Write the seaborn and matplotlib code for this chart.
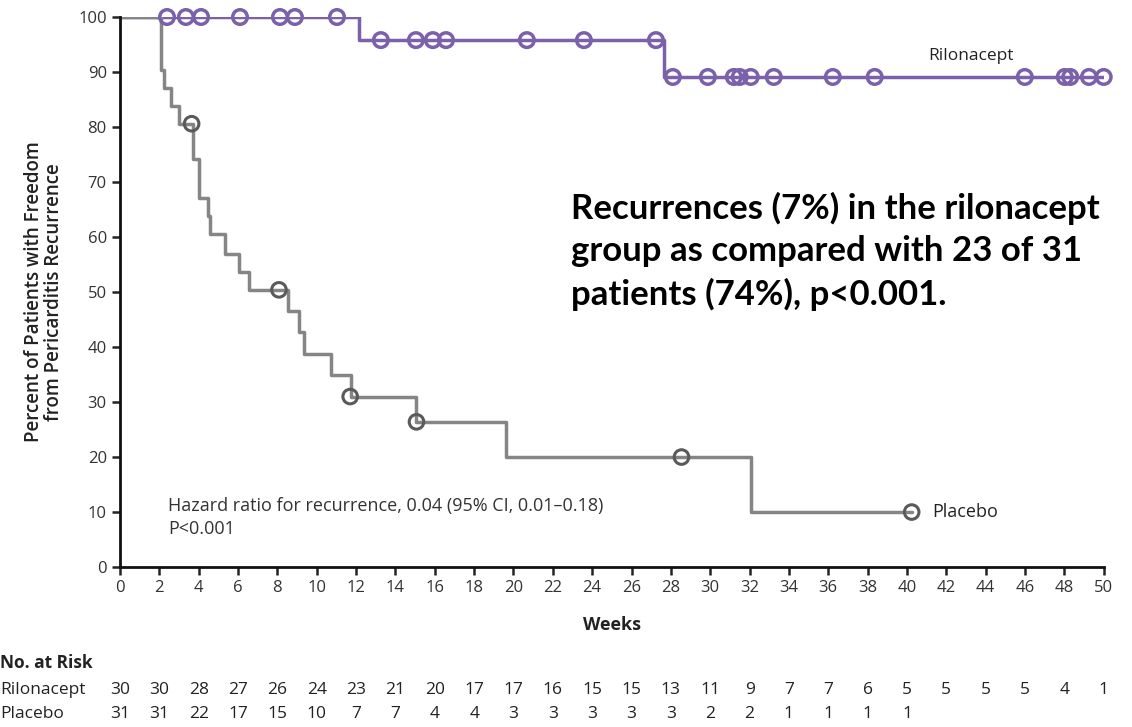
import numpy as np
import seaborn as sns
import matplotlib
matplotlib.use('Agg')
import matplotlib.pyplot as plt

# Kaplan-Meier step data (weeks, percent free of recurrence)
rilo_times = [0, 12.14, 27.64, 50]
rilo_surv = [100, 95.8, 89.1, 89.1]
rilo_cens_t = [2.39, 3.35, 4.12, 6.1, 8.13, 8.89, 11.03,
               13.26, 15.04, 15.9, 16.57, 20.68, 23.58, 27.24,
               28.1, 29.88, 31.2, 31.5, 32.06, 33.23, 36.23, 38.36,
               45.99, 48.02, 48.3, 49.25, 50.0]
rilo_cens_s = [100] * 7 + [95.8] * 7 + [89.1] * 13

plac_times = [0, 2.1, 2.25, 2.6, 3.0, 3.7, 4.0, 4.45, 4.57, 5.35, 6.05, 6.57,
              8.55, 9.1, 9.37, 10.7, 11.74, 15.03, 19.6, 32.06, 40.24]
plac_surv = [100, 90.3, 87.1, 83.9, 80.6, 74.2, 67.1, 63.9, 60.6, 57.0, 53.7, 50.4,
             46.6, 42.7, 38.8, 34.9, 31.0, 26.4, 20.0, 10.0, 10.0]
plac_cens_t = [3.64, 8.08, 11.7, 15.07, 28.54, 40.24]
plac_cens_s = [80.6, 50.4, 31.0, 26.4, 20.0, 10.0]

risk_weeks = list(range(0, 52, 2))
risk_rilo = [30, 30, 28, 27, 26, 24, 23, 21, 20, 17, 17, 16, 15, 15, 13, 11, 9, 7, 7, 6, 5, 5, 5, 5, 4, 1]
risk_plac = [31, 31, 22, 17, 15, 10, 7, 7, 4, 4, 3, 3, 3, 3, 3, 2, 2, 1, 1, 1, 1]

purple = '#7b60aa'
grey = '#858585'
dark_grey = '#5a5a5a'

sns.set_theme(style='ticks')
plt.rcParams['font.family'] = ['Open Sans', 'DejaVu Sans']

fig = plt.figure(figsize=(11.32, 7.27), dpi=100)
ax = fig.add_axes([0.106, 0.22, 0.869, 0.7566])

sns.lineplot(x=rilo_times, y=rilo_surv, drawstyle='steps-post', estimator=None,
             color=purple, linewidth=2.5, ax=ax)
sns.lineplot(x=plac_times, y=plac_surv, drawstyle='steps-post', estimator=None,
             color=grey, linewidth=2.5, ax=ax)
sns.scatterplot(x=rilo_cens_t, y=rilo_cens_s, marker='o', s=110, fc='none',
                ec=purple, linewidth=2.5, clip_on=False, zorder=5, ax=ax)
sns.scatterplot(x=plac_cens_t, y=plac_cens_s, marker='o', s=110, fc='none',
                ec=dark_grey, linewidth=2.2, clip_on=False, zorder=5, ax=ax)

ax.set_xlim(0, 50)
ax.set_ylim(0, 100)
ax.set_xticks(risk_weeks)
ax.set_yticks(range(0, 101, 10))
ax.tick_params(axis='both', direction='out', length=6, width=1.8, labelsize=12,
               colors='#222222', labelcolor='#333333')
for s in ['top', 'right']:
    ax.spines[s].set_visible(False)
for s in ['left', 'bottom']:
    ax.spines[s].set_linewidth(2)
    ax.spines[s].set_color('#111111')

ax.set_xlabel('Weeks', fontsize=13, fontweight='bold', color='#222222', labelpad=14)
ax.set_ylabel('Percent of Patients with Freedom\nfrom Pericarditis Recurrence',
              fontsize=13.5, fontweight='semibold', color='#222222', labelpad=10,
              linespacing=1.0)

ax.text(41.1, 93.0, 'Rilonacept', fontsize=12.5, color='#222222', va='center')
ax.text(41.3, 10, 'Placebo', fontsize=13, color='#222222', va='center')
ax.text(2.45, 9.0, 'Hazard ratio for recurrence, 0.04 (95% CI, 0.01\u20130.18)\nP<0.001',
        fontsize=13, color='#333333', va='center', linespacing=1.3)

ax.text(22.9, 57.4, 'Recurrences (7%) in the rilonacept\ngroup as compared with 23 of 31\npatients (74%), p<0.001.',
        fontsize=25, fontweight='bold', color='black', va='center', linespacing=1.4,
        family=['Lato', 'DejaVu Sans'])

# risk table
tr = ax.get_xaxis_transform()
fig.text(0.0, 1 - 663 / 727, 'No. at Risk', fontsize=12.5, fontweight='bold',
         color='#222222', va='center')
fig.text(0.0, 1 - 690 / 727, 'Rilonacept', fontsize=12.5, color='#222222', va='center')
fig.text(0.0, 1 - 714 / 727, 'Placebo', fontsize=12.5, color='#222222', va='center')
for w, n in zip(risk_weeks, risk_rilo):
    ax.text(w, -(690 - 567) / 550, str(n), transform=tr, ha='center', va='center',
            fontsize=12.5, color='#222222', clip_on=False)
for w, n in zip(risk_weeks, risk_plac):
    ax.text(w, -(714 - 567) / 550, str(n), transform=tr, ha='center', va='center',
            fontsize=12.5, color='#222222', clip_on=False)

fig.savefig('out.png', dpi=100)
